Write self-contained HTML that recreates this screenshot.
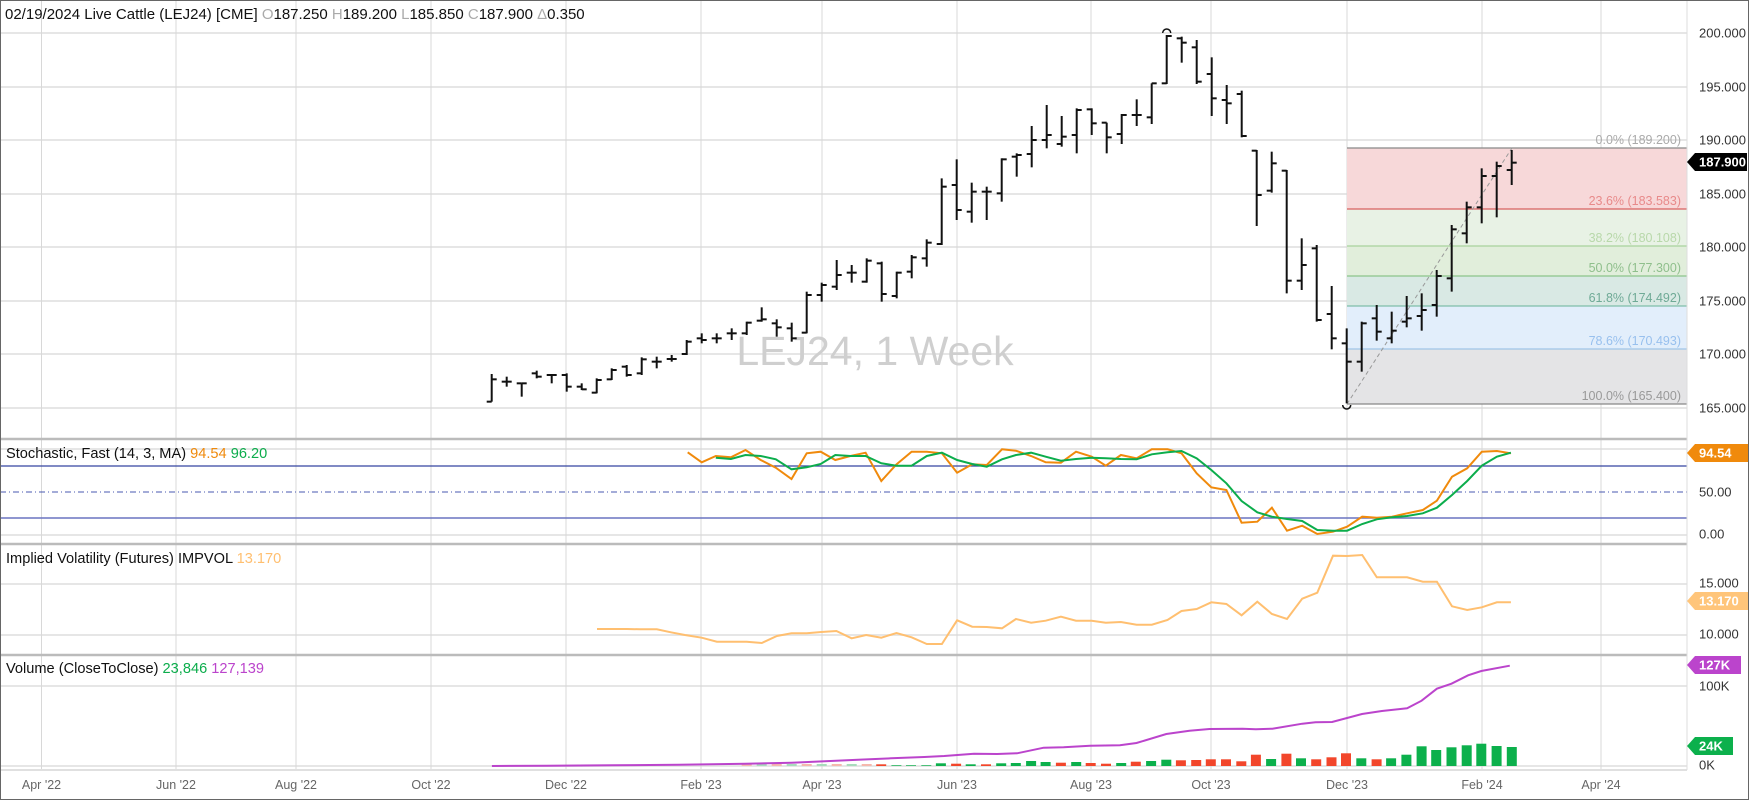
<!DOCTYPE html>
<html><head><meta charset="utf-8">
<style>
html,body{margin:0;padding:0;background:#fff;}
svg{display:block;font-family:"Liberation Sans",sans-serif;}
</style></head>
<body>
<svg id="s" width="1752" height="801" xmlns="http://www.w3.org/2000/svg"></svg>
<script>
const S=document.getElementById('s');let h='';
const add=t=>h+=t;
add('<rect x="0" y="0" width="1752" height="801" fill="#fff"/>');
[33,87,140,194,247,301,354,408,449,535,584,635,686,766].forEach(y=>add(`<line x1="0" x2="1687" y1="${y}" y2="${y}" stroke="#e6e6e6" stroke-width="2"/>`));
const mx=[41.5,176,296,431,566,701,822,957,1091,1211,1347,1482,1601];
mx.forEach(x=>add(`<line x1="${x}" x2="${x}" y1="0" y2="770" stroke="#d8d8d8" stroke-width="1"/>`));
const fx=1347,fw=1687-1347;
const zones=[[148,209,'#f7d8d9'],[209,246,'#e8f2e5'],[246,276,'#e1eedb'],[276,306,'#d9e9e4'],[306,349,'#e2eefb'],[349,404,'#e4e4e6']];
zones.forEach(z=>add(`<rect x="${fx}" y="${z[0]}" width="${fw}" height="${z[1]-z[0]}" fill="${z[2]}"/>`));
const fl=[[148,'#888','0.0% (189.200)','#aaa'],[209,'#d96060','23.6% (183.583)','#e88a8a'],[246,'#a8d39c','38.2% (180.108)','#b8d8aa'],[276,'#8cc48a','50.0% (177.300)','#8fbf8c'],[306,'#7fbfa9','61.8% (174.492)','#6faa96'],[349,'#9fc5e8','78.6% (170.493)','#98c0ee'],[404,'#888','100.0% (165.400)','#999']];
fl.forEach(f=>{add(`<line x1="${fx}" x2="1687" y1="${f[0]}" y2="${f[0]}" stroke="${f[1]}" stroke-width="1.3"/>`);
add(`<text x="1681" y="${f[0]-4}" text-anchor="end" font-size="12.5" fill="${f[3]}">${f[2]}</text>`);});
add(`<line x1="1347" y1="404" x2="1512" y2="148" stroke="#999" stroke-width="1" stroke-dasharray="4,3"/>`);
add(`<text x="875" y="365" text-anchor="middle" font-size="41" fill="#cfcfcf">LEJ24, 1 Week</text>`);
const B=[[1122,1205,1205,1138],[1130,1160,1145,1145],[1150,1190,1150,1150],[1112,1135,1120,1130],[1122,1150,1125,1125],[1120,1175,1125,1160],[1150,1170,1160,1168],[1135,1180,1178,1140],[1105,1140,1138,1110],[1095,1130,1100,1125],[1072,1125,1120,1078],[1070,1105,1085,1085],[1065,1085,1077,1077],[1020,1065,1062,1025],[1000,1030,1015,1020],[1000,1030,1015,1015],[985,1020,1000,1000],[965,1005,1000,968],[922,965,962,958],[958,1010,970,982],[968,1025,985,1015],[875,1000,998,885],[848,905,885,855],[780,870,860,825],[795,848,818,818],[775,848,845,782],[785,905,790,882],[815,895,888,818],[765,835,815,772],[718,800,775,728],[535,735,732,560],[478,660,555,630],[548,668,635,575],[560,660,575,575],[475,605,580,478],
[460,530,470,465],[378,502,462,420],[315,445,420,405],[348,440,432,410],[325,460,405,330],[325,405,328,370],[368,460,368,412],[342,432,402,345],[298,378,345,345],[250,372,352,250],[105,252,250,108],[110,188,115,128],[120,252,142,245],[172,348,222,295],[255,372,300,310],[272,412,282,408],[450,678,452,585],[455,578,572,490],[510,880,512,842],[715,870,842,795],[735,965,745,960],[858,1048,942,1015],[985,1210,1030,1085],[965,1115,1085,970],[915,1022,955,995],[935,1030,1015,992],[888,982,965,955],[880,992,948,930],[810,950,915,828],[675,875,835,688],[605,730,700,622],[505,670,622,528],[485,652,528,498],[450,555,510,488]];
const bx=i=>491.7+15*i;
B.forEach((b,i)=>{const x=bx(i);const [H,L,O,C]=b.map(v=>v/3);
add(`<line x1="${x}" x2="${x}" y1="${H}" y2="${L}" stroke="#111" stroke-width="2"/>`);
add(`<line x1="${x-5}" x2="${x}" y1="${O}" y2="${O}" stroke="#111" stroke-width="2"/>`);
add(`<line x1="${x}" x2="${x+5}" y1="${C}" y2="${C}" stroke="#111" stroke-width="2"/>`);});
add(`<path d="M${bx(45)-4},33 a4,4 0 0 1 8,0" fill="none" stroke="#111" stroke-width="1.5"/>`);
add(`<path d="M${bx(57)-4},405 a4,4 0 0 0 8,0" fill="none" stroke="#111" stroke-width="1.5"/>`);
[439,544,655].forEach(y=>add(`<line x1="0" x2="1687" y1="${y}" y2="${y}" stroke="#bbb" stroke-width="2.5"/>`));
add(`<line x1="0" x2="1687" y1="466" y2="466" stroke="#3545a0" stroke-width="1.2"/>`);
add(`<line x1="0" x2="1687" y1="492" y2="492" stroke="#4a58b0" stroke-width="1" stroke-dasharray="6,3,1,3"/>`);
add(`<line x1="0" x2="1687" y1="518" y2="518" stroke="#6a74c0" stroke-width="1.5"/>`);
const so=[[85,52],[110,82],[135,63],[162,67],[188,45],[215,75],[242,98],[270,132],[297,55],[322,50],[348,75],[375,63],[402,53],[430,138],[457,88],[484,50],[511,50],[538,55],[565,113],[592,88],[618,90],[645,43],[670,47],[697,63],[723,82],[750,83],[777,50],[805,65],[830,92],[857,60],[885,70],[912,43],[940,43],[965,55],[992,115],[1018,157],[1045,165],[1072,263],[1100,260],[1126,218],[1153,287],[1180,272],[1207,297],[1235,290],[1260,275],[1287,245],[1313,248],[1340,245],[1367,235],[1395,225],[1420,197],[1447,125],[1474,100],[1500,50],[1527,48],[1552,55]];
const sg=[[135,68],[162,72],[188,60],[215,63],[242,73],[270,103],[297,97],[322,87],[348,60],[375,63],[402,63],[430,85],[457,92],[484,92],[511,63],[538,53],[565,75],[592,87],[618,95],[645,73],[670,60],[697,53],[723,65],[750,77],[777,72],[805,68],[830,70],[857,72],[885,73],[912,58],[940,52],[965,48],[992,70],[1018,105],[1045,145],[1072,198],[1100,232],[1126,245],[1153,252],[1180,258],[1207,285],[1235,287],[1260,287],[1287,267],[1313,253],[1340,247],[1367,243],[1395,235],[1420,218],[1447,180],[1474,138],[1500,92],[1527,65],[1552,53]];
const p7=a=>a.map(p=>(640+p[0]/1.782).toFixed(1)+','+(435+p[1]/3).toFixed(1)).join(' ');
add(`<polyline points="${p7(so)}" fill="none" stroke="#f08a0c" stroke-width="2"/>`);
add(`<polyline points="${p7(sg)}" fill="none" stroke="#0cad4c" stroke-width="2"/>`);
const iv=[[0,583],[30,583],[55,592],[80,600],[110,608],[137,620],[163,620],[190,620],[217,624],[244,603],[270,595],[297,595],[323,591],[350,588],[377,610],[403,600],[430,608],[457,594],[484,607],[511,627],[538,627],[565,556],[592,575],[618,576],[645,580],[670,552],[697,563],[723,557],[750,545],[777,557],[805,557],[830,563],[857,561],[885,569],[912,569],[940,555],[965,528],[992,522],[1018,502],[1045,507],[1072,541],[1100,500],[1126,537],[1153,552],[1180,491],[1207,473],[1235,362],[1260,363],[1287,360],[1313,427],[1340,427],[1367,427],[1395,440],[1420,440],[1447,514],[1474,525],[1500,517],[1527,502],[1552,502]];
add(`<polyline points="597,629 612,629 627,629 ${p7(iv)}" fill="none" stroke="#ffbf70" stroke-width="2"/>`);
const vb=[[605,343,'r'],[628,346,'g'],[650,346,'g'],[673,346,'g'],[695,340,'g'],[718,341,'r'],[740,343,'g'],[763,343,'r'],[786,340,'g'],[808,339,'g'],[831,333,'g'],[853,336,'g'],[876,338,'r'],[899,336,'g'],[921,339,'r'],[944,341,'r'],[967,339,'g'],[989,335,'r'],[1012,333,'g'],[1035,329,'g'],[1057,331,'r'],[1080,330,'r'],[1102,328,'r'],[1125,328,'r'],[1148,334,'r'],[1170,314,'r'],[1193,327,'g'],[1216,311,'r'],[1238,325,'g'],[1261,328,'r'],[1284,322,'r'],[1306,310,'r'],[1329,325,'g'],[1352,328,'r'],[1374,325,'g'],[1397,314,'g'],[1420,289,'g'],[1442,300,'g'],[1465,292,'g'],[1488,286,'g'],[1510,281,'g'],[1533,288,'g'],[1556,291,'g']];
for(let i=17;i<26;i++){add(`<rect x="${bx(i)-5}" y="764" width="10" height="2" fill="${i%2?'#f5b8ad':'#a8dcbc'}"/>`);}
vb.forEach(v=>{const x=480+v[0]/1.508;const t=650+v[1]/3;add(`<rect x="${(x-5).toFixed(1)}" y="${t.toFixed(1)}" width="10" height="${(766-t).toFixed(1)}" fill="${v[2]=='g'?'#0cb04c':'#f2462b'}"/>`);});
const oi=[[18,348],[100,347],[200,346],[300,344],[400,341],[470,338],[520,334],[570,329],[620,325],[670,321],[700,318],[745,311],[780,312],[810,310],[850,293],[880,292],[920,287],[965,286],[990,279],[1035,252],[1070,242],[1100,237],[1150,236],[1170,238],[1195,236],[1240,221],[1260,217],[1285,216],[1330,192],[1360,183],[1398,175],[1420,152],[1443,116],[1465,101],[1490,76],[1510,63],[1553,47]];
add(`<polyline points="${oi.map(p=>(480+p[0]/1.508).toFixed(1)+','+(650+p[1]/3).toFixed(1)).join(' ')}" fill="none" stroke="#bb44cc" stroke-width="2"/>`);
add(`<line x1="0" x2="1687" y1="770" y2="770" stroke="#e0e0e0" stroke-width="2"/>`);
add(`<line x1="1687" x2="1687" y1="0" y2="770" stroke="#ddd" stroke-width="1"/>`);
[[200,33],[195,87],[190,140],[185,194],[180,247],[175,301],[170,354],[165,408]].forEach(p=>add(`<text x="1699" y="${p[1]+4.5}" font-size="13" fill="#333">${p[0]}.000</text>`));
[['50.00',492],['0.00',534],['15.000',583],['10.000',634],['100K',686],['0K',765]].forEach(p=>add(`<text x="1699" y="${p[1]+4.5}" font-size="13" fill="#333">${p[0]}</text>`));
function tag(y,w,col,txt,tc){add(`<path d="M1687,${y} L1695,${y-9} L${1695+w},${y-9} L${1695+w},${y+9} L1695,${y+9} Z" fill="${col}"/>`);
add(`<text x="${1699}" y="${y+4.5}" font-size="13" font-weight="bold" fill="${tc}">${txt}</text>`);}
tag(162,52,'#000','187.900','#fff');
tag(453,53,'#f08a0c','94.54','#fff');
tag(601,53,'#ffc57a','13.170','#fff');
tag(665,46,'#bb44cc','127K','#fff');
tag(746,38,'#0cb04c','24K','#fff');
const ml=["Apr '22","Jun '22","Aug '22","Oct '22","Dec '22","Feb '23","Apr '23","Jun '23","Aug '23","Oct '23","Dec '23","Feb '24","Apr '24"];
ml.forEach((t,i)=>add(`<text x="${mx[i]}" y="789" text-anchor="middle" font-size="12.5" fill="#666">${t}</text>`));
add(`<text x="5" y="19" font-size="15" fill="#111">02/19/2024 Live Cattle (LEJ24) [CME] <tspan fill="#aaa">O</tspan>187.250 <tspan fill="#aaa">H</tspan>189.200 <tspan fill="#aaa">L</tspan>185.850 <tspan fill="#aaa">C</tspan>187.900 <tspan fill="#aaa">Δ</tspan>0.350</text>`);
add(`<text x="6" y="458" font-size="14.6" fill="#111">Stochastic, Fast  (14, 3, MA) <tspan fill="#f08a0c">94.54</tspan> <tspan fill="#0cad4c">96.20</tspan></text>`);
add(`<text x="6" y="563" font-size="14.6" fill="#111">Implied Volatility (Futures) IMPVOL <tspan fill="#ffbf70">13.170</tspan></text>`);
add(`<text x="6" y="673" font-size="14.6" fill="#111">Volume  (CloseToClose) <tspan fill="#0cad4c">23,846</tspan> <tspan fill="#bb44cc">127,139</tspan></text>`);
add(`<rect x="0.5" y="0.5" width="1748" height="799" fill="none" stroke="#666" stroke-width="1"/>`);
S.innerHTML=h;
</script>
</body></html>
